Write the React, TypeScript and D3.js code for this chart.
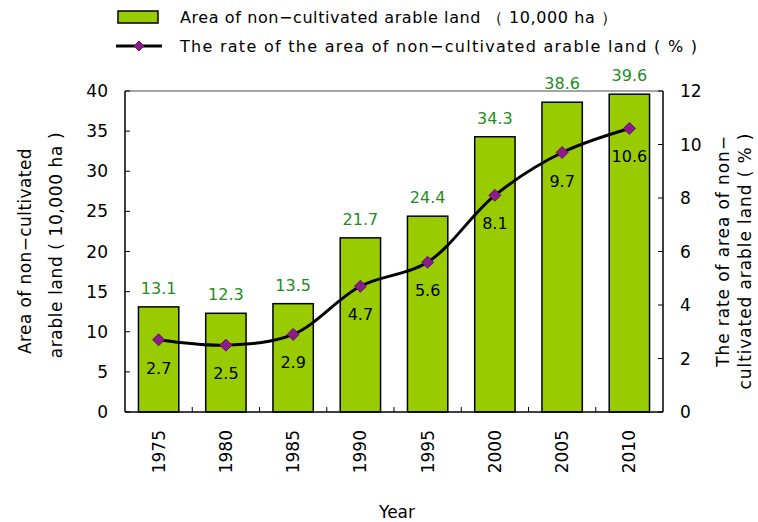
import React from "react";
import * as d3 from "d3";

const years = ["1975", "1980", "1985", "1990", "1995", "2000", "2005", "2010"];
const areaValues = [13.1, 12.3, 13.5, 21.7, 24.4, 34.3, 38.6, 39.6];
const rateValues = [2.7, 2.5, 2.9, 4.7, 5.6, 8.1, 9.7, 10.6];
const leftTicks = [0, 5, 10, 15, 20, 25, 30, 35, 40];
const rightTicks = [0, 2, 4, 6, 8, 10, 12];

const W = 758, H = 522;
const L = 125, R = 663, T = 91, B = 412;
const FONT = "'DejaVu Sans', sans-serif";
const BAR = "#99CC00";
const GREEN = "#1E8C1E";
const PURPLE = "#8B1C8B";

export default function App() {
  const x = d3.scaleBand().domain(years).range([L, R]).paddingInner(0.4).paddingOuter(0.2);
  const yL = d3.scaleLinear().domain([0, 40]).range([B, T]);
  const yR = d3.scaleLinear().domain([0, 12]).range([B, T]);
  const step = x.step();
  const cx = (i: number) => (x(years[i]) as number) + x.bandwidth() / 2;
  const line = d3
    .line<number>()
    .x((_, i) => cx(i))
    .y((d) => yR(d))
    .curve(d3.curveCatmullRom.alpha(0.5));
  const diamond = (px: number, py: number, s = 6) =>
    `M${px},${py - s}L${px + s},${py}L${px},${py + s}L${px - s},${py}Z`;

  return (
    <svg width={W} height={H} style={{ position: "absolute", left: 0, top: 0, fontFamily: FONT }}>
      <rect width={W} height={H} fill="white" />
      {/* legend */}
      <rect x={118} y={11} width={40} height={12} fill={BAR} stroke="black" strokeWidth={1.5} />
      <text x={180} y={23} fontSize={16} fill="black" textLength={437} lengthAdjust="spacing">
        Area of non−cultivated arable land （ 10,000 ha ）
      </text>
      <line x1={116} y1={46} x2={162} y2={46} stroke="black" strokeWidth={3} />
      <path d={diamond(139, 46, 5)} fill={PURPLE} stroke="#6a106a" strokeWidth={1} />
      <text x={180} y={52} fontSize={16} fill="black" textLength={517} lengthAdjust="spacing">
        The rate of the area of non−cultivated arable land ( % )
      </text>

      {/* plot frame */}
      <line x1={L} y1={T} x2={R} y2={T} stroke="#888" strokeWidth={1.5} />
      {/* bars */}
      {areaValues.map((v, i) => (
        <rect key={"b" + i} x={x(years[i])} y={yL(v)} width={x.bandwidth()} height={B - yL(v)}
          fill={BAR} stroke="black" strokeWidth={1.5} />
      ))}
      {areaValues.map((v, i) => (
        <text key={"bl" + i} x={cx(i)} y={yL(v) - 13} textAnchor="middle" fontSize={16} fill={GREEN}>
          {v.toFixed(1)}
        </text>
      ))}
      {/* axes */}
      <line x1={L} y1={T} x2={L} y2={B} stroke="black" strokeWidth={1.5} />
      <line x1={R} y1={T} x2={R} y2={B} stroke="black" strokeWidth={1.5} />
      <line x1={L} y1={B} x2={R} y2={B} stroke="black" strokeWidth={1.5} />
      {leftTicks.map((t) => (
        <g key={"lt" + t}>
          <line x1={L} x2={L + 5} y1={yL(t)} y2={yL(t)} stroke="black" strokeWidth={1} />
          <text x={108} y={yL(t) + 6} textAnchor="end" fontSize={17} fill="black">{t}</text>
        </g>
      ))}
      {rightTicks.map((t) => (
        <g key={"rt" + t}>
          <line x1={R - 5} x2={R} y1={yR(t)} y2={yR(t)} stroke="black" strokeWidth={1} />
          <text x={680} y={yR(t) + 6} textAnchor="start" fontSize={17} fill="black">{t}</text>
        </g>
      ))}
      {years.slice(1).map((yv, i) => {
        const xx = (x(yv) as number) - (step - x.bandwidth()) / 2;
        return <line key={"xt" + i} x1={xx} x2={xx} y1={B} y2={B - 5} stroke="black" strokeWidth={1} />;
      })}
      {years.map((yv, i) => (
        <text key={"xl" + i} transform={`translate(${cx(i) + 6},${430}) rotate(-90)`} textAnchor="end"
          fontSize={17} fill="black">{yv}</text>
      ))}

      {/* line series */}
      <path d={line(rateValues) || ""} fill="none" stroke="black" strokeWidth={3} />
      {rateValues.map((v, i) => (
        <path key={"m" + i} d={diamond(cx(i), yR(v))} fill={PURPLE} stroke="#6a106a" strokeWidth={1} />
      ))}
      {rateValues.map((v, i) => (
        <text key={"ml" + i} x={cx(i)} y={yR(v) + 34} textAnchor="middle" fontSize={16} fill="black">
          {v.toFixed(1)}
        </text>
      ))}

      {/* axis titles */}
      <text transform={`translate(31,251) rotate(-90)`} textAnchor="middle" fontSize={17} fill="black" letterSpacing={0.4}>
        Area of non−cultivated
      </text>
      <text transform={`translate(62,245) rotate(-90)`} textAnchor="middle" fontSize={17} fill="black" letterSpacing={0.6}>
        arable land ( 10,000 ha )
      </text>
      <text transform={`translate(729,251) rotate(-90)`} textAnchor="middle" fontSize={17} fill="black" letterSpacing={0.9}>
        The rate of area of non−
      </text>
      <text transform={`translate(751,261) rotate(-90)`} textAnchor="middle" fontSize={17} fill="black" letterSpacing={0.9}>
        cultivated arable land ( % )
      </text>
      <text x={397} y={518} textAnchor="middle" fontSize={17} fill="black">Year</text>
    </svg>
  );
}
